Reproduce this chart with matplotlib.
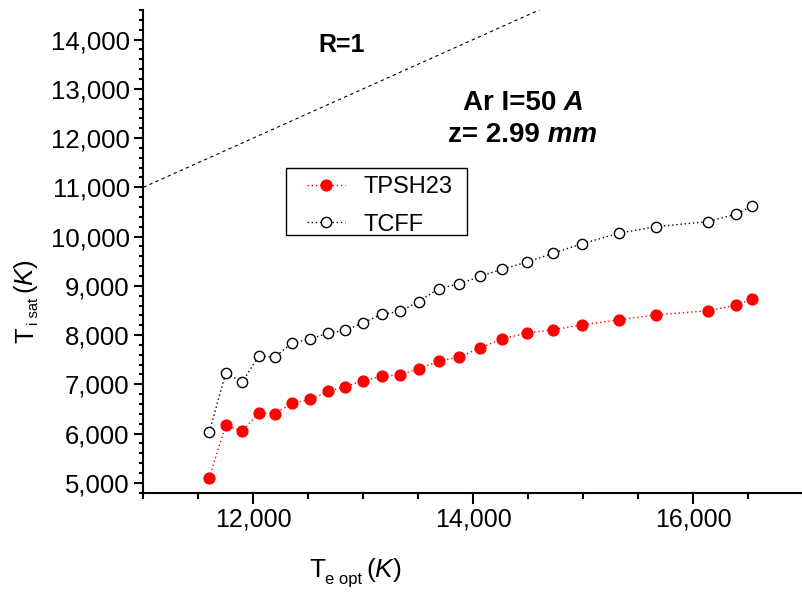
import matplotlib
matplotlib.use('Agg')
import matplotlib.pyplot as plt
from matplotlib.ticker import MultipleLocator, StrMethodFormatter
from matplotlib.patches import Rectangle

plt.rcParams['font.family'] = 'Liberation Sans'
plt.rcParams['mathtext.fontset'] = 'custom'
plt.rcParams['mathtext.rm'] = 'Liberation Sans'
plt.rcParams['mathtext.it'] = 'Liberation Sans:italic'
plt.rcParams['mathtext.bf'] = 'Liberation Sans:bold'

# optical electron temperature (K)
te_opt = [11600, 11750, 11900, 12050, 12195, 12355, 12520, 12680, 12835, 12995,
          13170, 13335, 13505, 13685, 13870, 14065, 14265, 14490, 14725, 14990,
          15330, 15660, 16140, 16395, 16535]
# saturated ion temperature (K)
ti_tpsh23 = [5100, 6175, 6045, 6420, 6405, 6615, 6695, 6855, 6950, 7075,
             7160, 7195, 7315, 7465, 7555, 7740, 7925, 8040, 8110, 8205,
             8310, 8410, 8495, 8610, 8730]
ti_tcff = [6035, 7230, 7045, 7580, 7555, 7840, 7920, 8040, 8095, 8245,
           8425, 8480, 8680, 8940, 9040, 9190, 9340, 9480, 9660, 9855,
           10070, 10200, 10305, 10460, 10620]
ratio = 1.0
ratio_x = [11000, 17000]

W, H = 803, 594
def px(x, y):
    # pixel position -> figure fraction
    return x / W, 1 - y / H

fig = plt.figure(figsize=(W / 100, H / 100), dpi=100)
# axes box in pixels: left 143, right 803, top 10, bottom 493
ax = fig.add_axes([143.3 / W, 1 - 492.7 / H, (W - 143.3) / W, (492.7 - 10) / H])

ax.plot(ratio_x, [ratio * v for v in ratio_x], color='black', lw=0.8, ls=(0, (3, 3)))
ax.plot(te_opt, ti_tpsh23, color='red', ls=(0, (1, 2)), lw=1.0, marker='o',
        ms=7.8, mfc='red', mec='red', label='TPSH23')
ax.plot(te_opt, ti_tcff, color='black', ls=(0, (1, 2)), lw=1.0, marker='o',
        ms=7.4, mfc='white', mec='black', mew=1.0, label='TCFF')

ax.set_xlim(11000, 17000)
ax.set_ylim(4800, 14600)
ax.xaxis.set_major_locator(MultipleLocator(2000))
ax.xaxis.set_minor_locator(MultipleLocator(500))
ax.yaxis.set_major_locator(MultipleLocator(1000))
ax.yaxis.set_minor_locator(MultipleLocator(200))
ax.xaxis.set_major_formatter(StrMethodFormatter('{x:,.0f}'))
ax.yaxis.set_major_formatter(StrMethodFormatter('{x:,.0f}'))

for s in ['top', 'right']:
    ax.spines[s].set_visible(False)
for s in ['left', 'bottom']:
    ax.spines[s].set_linewidth(1.5)

ax.tick_params(axis='x', which='major', length=7.7, width=1.5, labelsize=18, pad=3)
ax.tick_params(axis='x', which='minor', length=4, width=1.5)
ax.tick_params(axis='y', which='major', length=6.8, width=1.5, labelsize=18.5, pad=3)
ax.tick_params(axis='y', which='minor', length=3.1, width=1.5)

# legend: drawn frame + frameless legend inside it
ax.add_patch(Rectangle((0.2159, 0.5339), 0.4911 - 0.2159, 0.6721 - 0.5339,
                       transform=ax.transAxes, fc='white', ec='black', lw=1.0,
                       zorder=4))
leg = ax.legend(loc='upper left', bbox_to_anchor=(0.2481, 0.6555), borderaxespad=0,
                frameon=False, fontsize=17, handlelength=1.61, handletextpad=0.78,
                borderpad=0, labelspacing=0.65, numpoints=1)
leg.set_zorder(5)

fig.text(*px(341.5, 45), 'R=1', fontsize=18, fontweight='bold',
         ha='center', va='center')
t1 = fig.text(*px(463.3, 110), 'Ar I=50', fontsize=20, fontweight='bold',
              ha='left', va='baseline')
ax.annotate(' A', xy=(1, 0), xycoords=t1, fontsize=20, fontweight='bold',
            style='italic', ha='left', va='bottom')
t2 = fig.text(*px(448.3, 141.7), 'z= 2.99', fontsize=20, fontweight='bold',
              ha='left', va='baseline')
ax.annotate(' mm', xy=(1, 0), xycoords=t2, fontsize=20, fontweight='bold',
            style='italic', ha='left', va='bottom')

# x label: T_{e opt} (K)
fig.text(*px(309, 577), 'T', fontsize=19, ha='left', va='baseline')
fig.text(*px(325, 584), 'e opt', fontsize=12, ha='left', va='baseline')
fig.text(*px(366, 577), r'($\mathit{K}$)', fontsize=19, ha='left', va='baseline')

# y label: T_{i sat} (K), rotated
kw = dict(rotation=90, rotation_mode='anchor', ha='left', va='baseline')
fig.text(*px(33, 343), 'T', fontsize=18.5, **kw)
fig.text(*px(38.5, 325), 'i sat', fontsize=10.5, **kw)
fig.text(*px(33, 294), r'($\mathit{K}$)', fontsize=18.5, **kw)

fig.savefig('out.png', dpi=100)
